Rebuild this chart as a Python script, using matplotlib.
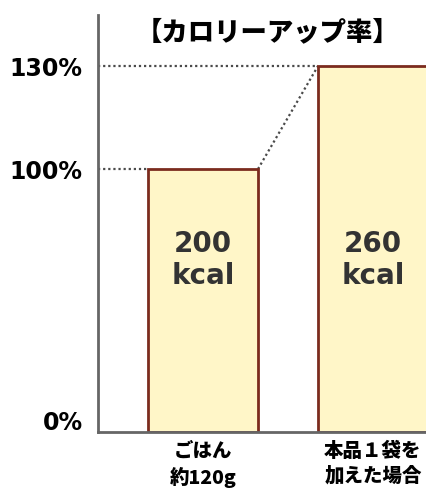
import numpy as np
import matplotlib.pyplot as plt
from matplotlib.transforms import ScaledTranslation

plt.rcParams['font.family'] = ['Noto Sans CJK JP', 'DejaVu Sans']

# データ
categories = ['ごはん\n約120g', '本品１袋を\n加えた場合']
rates = [100, 130]
kcals = [200, 260]
tick_values = [0, 100, 130]
tick_labels = ['0%', '100%', '130%']
title = '【カロリーアップ率】'

# 目盛りが等間隔でない(0-100と100-130の比率が違う)ので区分線形スケール
_src = [0, 100, 130, 200]
_dst = [0, 263, 366, 366 + 70 * 103 / 30]


def fwd(v):
    return np.interp(v, _src, _dst)


def inv(v):
    return np.interp(v, _dst, _src)


fig = plt.figure(figsize=(4.27, 4.94), dpi=100)
ax = fig.add_axes([98 / 427, 1 - 432 / 494, 1 - 98 / 427, 417 / 494])
ax.set_yscale('function', functions=(fwd, inv))

x = np.arange(len(categories))
width = 0.647
bar_fill = '#fff6c8'
bar_edge = '#7b2b1e'
dot_color = '#4a4a4a'

ax.bar(x, rates, width=width, color=bar_fill, edgecolor=bar_edge, linewidth=2, zorder=2)

x_left = -0.618
ax.set_xlim(x_left, 1.318)
ax.set_ylim(0, inv(417))

# 点線
dots = (0, (1, 1.3))
for xi, r in zip(x, rates):
    ax.plot([x_left, xi - width / 2], [r, r], color=dot_color, lw=1.6, ls=dots, zorder=1)
ax.plot([x[0] + width / 2, x[1] - width / 2], [rates[0], rates[1]],
        color=dot_color, lw=1.6, ls=dots, zorder=1)

# 棒の中のkcal表示
for xi, k in zip(x, kcals):
    ax.text(xi, 172 / 417, f'{k}\nkcal', transform=ax.get_xaxis_transform(),
            ha='center', va='center', fontsize=20, fontweight='bold',
            family='DejaVu Sans', color='#333333', linespacing=1.2)

# 軸
for side in ['top', 'right']:
    ax.spines[side].set_visible(False)
for side in ['left', 'bottom']:
    ax.spines[side].set_color('#666666')
    ax.spines[side].set_linewidth(2)
    ax.spines[side].set_zorder(3)

ax.set_yticks(tick_values)
ax.set_yticklabels(tick_labels, fontsize=17, fontweight='bold', family='DejaVu Sans')
ax.tick_params(axis='y', length=0, pad=11)
ax.get_yticklabels()[0].set_transform(
    ax.get_yticklabels()[0].get_transform() + ScaledTranslation(0, 12 / 100, fig.dpi_scale_trans))

ax.set_xticks(x)
ax.set_xticklabels(categories, fontsize=14, fontweight='black', linespacing=1.35)
ax.tick_params(axis='x', length=0, pad=7)

fig.text(268 / 427, 1 - 32 / 494, title, ha='center', va='center',
         fontsize=19, fontweight='black')

fig.savefig('out.png', dpi=100)
